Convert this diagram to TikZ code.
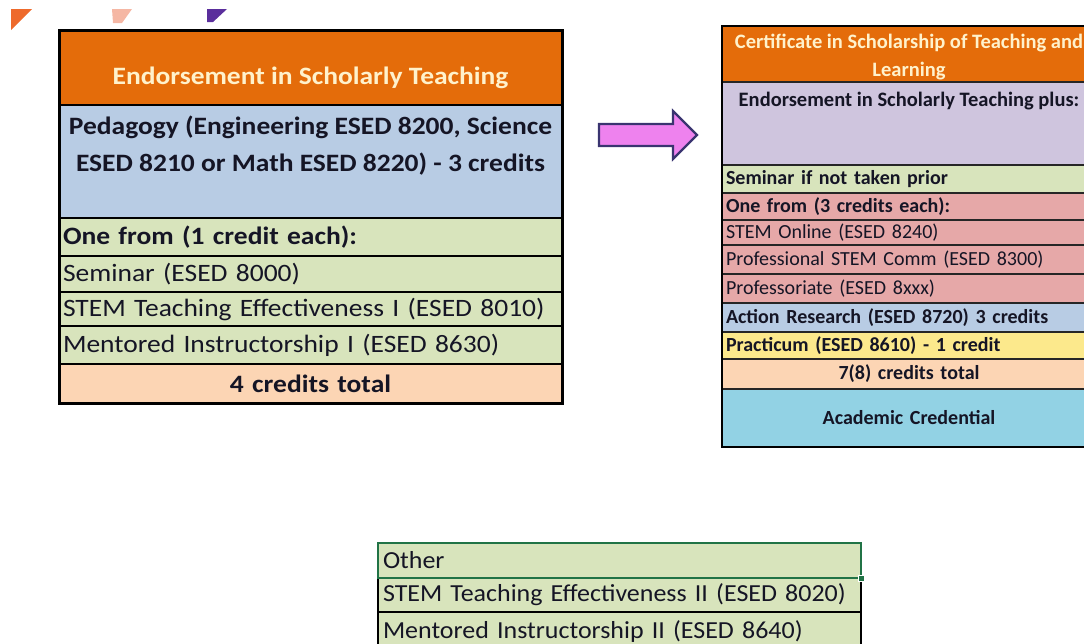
\documentclass[tikz,border=0pt]{standalone}
\usepackage{fontspec}
\setmainfont{Carlito}
\newfontfamily\lftfont[FakeStretch=1.1]{Carlito}
\newfontfamily\btmfont[FakeStretch=1.06]{Carlito}
\definecolor{orgH}{HTML}{E46C0A}
\definecolor{hdrtxt}{HTML}{FFF2CC}
\definecolor{bluR}{HTML}{B8CCE4}
\definecolor{grnR}{HTML}{D8E4BC}
\definecolor{peachR}{HTML}{FCD5B4}
\definecolor{lavR}{HTML}{CFC5DE}
\definecolor{redR}{HTML}{E6A8A8}
\definecolor{yelR}{HTML}{FCE98C}
\definecolor{aquaR}{HTML}{92D2E4}
\definecolor{selgrn}{HTML}{217346}
\definecolor{txtc}{HTML}{151525}
\definecolor{arrfill}{HTML}{EE82EE}
\definecolor{arrline}{HTML}{3A3470}
\definecolor{decoO}{HTML}{EE6A2C}
\definecolor{decoP}{HTML}{F5B7A4}
\definecolor{decoV}{HTML}{5A2E9C}
\tikzset{
  cellL/.style={draw=black, line width=2pt, anchor=north west, inner sep=0pt, outer sep=0pt, minimum width=503pt, text=txtc},
  rowL/.style={text width=495pt, inner xsep=4pt, align=left, font=\lftfont\fontsize{25}{30}\selectfont},
  cellR/.style={draw=black!85, line width=1.5pt, anchor=north west, inner sep=0pt, outer sep=0pt, minimum width=374pt, text=txtc},
  rowR/.style={text width=366pt, inner xsep=4pt, align=left, font=\fontsize{20}{24}\selectfont},
  cellB/.style={draw=black, line width=1.2pt, anchor=north west, inner sep=0pt, outer sep=0pt, minimum width=483pt, fill=grnR, text=txtc},
  rowB/.style={text width=473pt, inner xsep=5pt, align=left, font=\btmfont\fontsize{24.5}{29}\selectfont},
}
\begin{document}
\begin{tikzpicture}[x=1pt,y=-1pt]
\useasboundingbox (0,0) rectangle (1084,643);
\clip (0,0) rectangle (1084,643);
% decorations
\fill[decoO] (11,9) -- (32,9) -- (11,30) -- cycle;
\fill[decoP] (112,9) -- (132,9) -- (122,23) -- (113,23) -- cycle;
\fill[decoV] (207,9) -- (227,9) -- (213,22) -- (207,22) -- cycle;

% left table
\node[cellL, fill=orgH, minimum height=75pt] (lhead) at (59,30) {};
\node[anchor=base, inner sep=0pt, text=hdrtxt, font=\lftfont\bfseries\fontsize{25}{30}\selectfont] (lheadtxt) at (310.5,84) {Endorsement in Scholarly Teaching};
\node[cellL, fill=bluR, minimum height=113pt] (lped) at (59,105) {};
\node[anchor=north, inner sep=0pt, align=center, text=txtc, font=\lftfont\bfseries\fontsize{25}{37}\selectfont] (lpedtxt) at (310.5,116) {Pedagogy (Engineering ESED 8200, Science\\ESED 8210 or Math ESED 8220) - 3 credits};
\node[cellL, rowL, fill=grnR, minimum height=38pt] (lone) at (59,218) {\bfseries One from (1 credit each):};
\node[cellL, rowL, fill=grnR, minimum height=36pt] (lsem) at (59,256) {Seminar (ESED 8000)};
\node[cellL, rowL, fill=grnR, minimum height=34pt] (lstem) at (59,292) {STEM Teaching Effectiveness I (ESED 8010)};
\node[cellL, rowL, fill=grnR, minimum height=38pt] (lment) at (59,326) {Mentored Instructorship I (ESED 8630)};
\node[cellL, rowL, fill=peachR, minimum height=39pt, align=center] (ltot) at (59,364) {\bfseries 4 credits total};
\draw[line width=3pt] (lhead.north west) rectangle (ltot.south east);

% arrow
\draw[fill=arrfill, draw=arrline, line width=2.2pt, line join=miter] (599,124) -- (673,124) -- (673,111) -- (697,135) -- (673,159) -- (673,146) -- (599,146) -- cycle;

% right table
\node[cellR, fill=orgH, minimum height=56pt] (rhead) at (722,26) {};
\node[anchor=north, inner sep=0pt, align=center, text=hdrtxt, font=\bfseries\fontsize{20.5}{28}\selectfont] (rheadtxt) at (909,34) {Certificate in Scholarship of Teaching and\\Learning};
\node[cellR, fill=lavR, minimum height=83pt] (rlav) at (722,82) {};
\node[anchor=base, inner sep=0pt, text=txtc, font=\bfseries\fontsize{20.5}{24}\selectfont] (rlavtxt) at (909,106) {Endorsement in Scholarly Teaching plus:};
\node[cellR, rowR, fill=grnR, minimum height=28pt] (rsem) at (722,165) {\bfseries Seminar if not taken prior};
\node[cellR, rowR, fill=redR, minimum height=27pt] (rone) at (722,193) {\bfseries One from (3 credits each):};
\node[cellR, rowR, fill=redR, minimum height=25pt] (ronl) at (722,220) {STEM Online (ESED 8240)};
\node[cellR, rowR, fill=redR, minimum height=29pt] (rprof) at (722,245) {Professional STEM Comm (ESED 8300)};
\node[cellR, rowR, fill=redR, minimum height=29pt] (rprofr) at (722,274) {Professoriate (ESED 8xxx)};
\node[cellR, rowR, fill=bluR, minimum height=29pt] (ract) at (722,303) {\bfseries Action Research (ESED 8720) 3 credits};
\node[cellR, rowR, fill=yelR, minimum height=27pt] (rprac) at (722,332) {\bfseries Practicum (ESED 8610) - 1 credit};
\node[cellR, rowR, fill=peachR, minimum height=30pt, align=center] (rtot) at (722,359) {\bfseries 7(8) credits total};
\node[cellR, rowR, fill=aquaR, minimum height=58pt, align=center] (racad) at (722,389) {\bfseries Academic Credential};
\draw[line width=2.2pt] (rhead.north west) rectangle (racad.south east);

% bottom table
\node[cellB, rowB, minimum height=34pt] (bstem) at (378,578) {STEM Teaching Effectiveness II (ESED 8020)};
\node[cellB, rowB, minimum height=40pt] (bment) at (378,612) {Mentored Instructorship II (ESED 8640)};
\node[cellB, rowB, minimum height=35pt, draw=selgrn, line width=2.5pt] (bother) at (378,543) {Other};
\node[fill=selgrn, draw=white, line width=0.8pt, minimum size=6pt, inner sep=0pt] (bhandle) at (bother.south east) {};
\end{tikzpicture}
\end{document}
